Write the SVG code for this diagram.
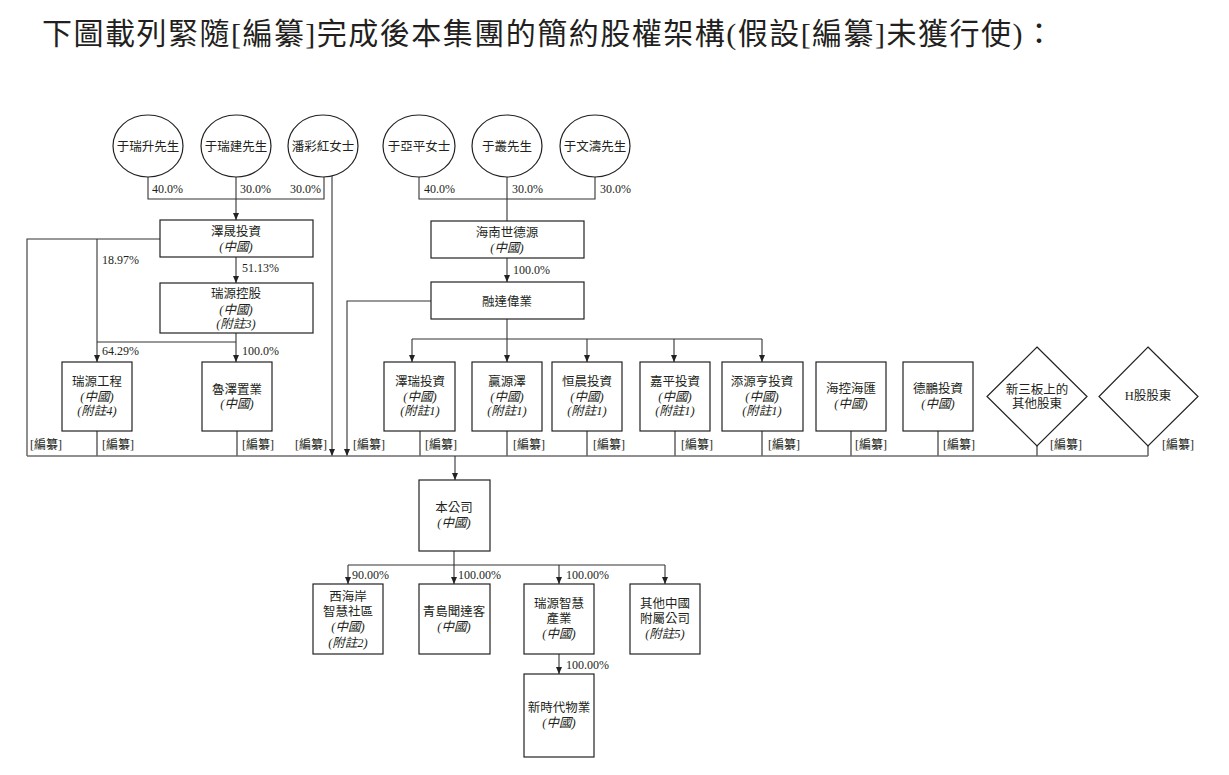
<svg xmlns="http://www.w3.org/2000/svg" width="1229" height="775" viewBox="0 0 1229 775">
<defs>
<style>
.t{font-family:"Liberation Serif","Noto Sans CJK TC",serif;font-size:12.5px;fill:#231f20;text-anchor:middle}
.i{font-style:italic}
.p{font-family:"Liberation Serif","Noto Sans CJK TC",serif;font-size:12px;fill:#231f20}
.r{font-family:"Liberation Serif","Noto Sans CJK TC",serif;font-size:12px;fill:#231f20}
.box{fill:#fff;stroke:#222;stroke-width:1.2}
.ln{stroke:#333;fill:none;stroke-width:1.1}
.bus{stroke:#6b6b6b;fill:none;stroke-width:1.6}
.title{font-family:"Liberation Serif","Noto Sans CJK TC",serif;font-size:30px;fill:#231f20}
</style>
<marker id="ah" viewBox="0 0 7 6" refX="7" refY="3" markerWidth="7" markerHeight="6" markerUnits="userSpaceOnUse" orient="auto">
<path d="M0,0 L7,3 L0,6 z" fill="#222"/>
</marker>
</defs>
<rect width="1229" height="775" fill="#fff"/>
<text class="title" x="42" y="44" textLength="1012" lengthAdjust="spacing">下圖載列緊隨[編纂]完成後本集團的簡約股權架構(假設[編纂]未獲行使)：</text>

<g id="connectors">
<!-- shareholders to 澤晟 -->
<path class="ln" d="M148,177 V199 H324 V177"/>
<path class="ln" d="M236,177 V220" marker-end="url(#ah)"/>
<path class="ln" d="M332,176 V456" marker-end="url(#ah)"/>
<!-- shareholders to 海南世德源 -->
<path class="ln" d="M419,177 V199 H595 V177"/>
<path class="ln" d="M507,177 V221"/>
<path class="ln" d="M507,258 V282" marker-end="url(#ah)"/>
<!-- 澤晟 -->
<path class="ln" d="M160,239 H27 V456"/>
<path class="ln" d="M97,239 V362" marker-end="url(#ah)"/>
<path class="ln" d="M236,257 V283" marker-end="url(#ah)"/>
<path class="ln" d="M236,333 V362" marker-end="url(#ah)"/>
<path class="ln" d="M97,342 H236"/>
<!-- 融達偉業 -->
<path class="ln" d="M431,301 H347 V456" marker-end="url(#ah)"/>
<path class="ln" d="M507,319 V362" marker-end="url(#ah)"/>
<path class="ln" d="M412,339 H762"/>
<path class="ln" d="M412,339 V362" marker-end="url(#ah)"/>
<path class="ln" d="M587,339 V362" marker-end="url(#ah)"/>
<path class="ln" d="M674,339 V362" marker-end="url(#ah)"/>
<path class="ln" d="M762,339 V362" marker-end="url(#ah)"/>
<!-- bus -->
<path class="bus" d="M27,456 H1148"/>
<path class="bus" d="M97,431 V456 M237,431 V456 M420,431 V456 M507,431 V456 M587,431 V456 M675,431 V456 M762,431 V456 M851,431 V456 M938,431 V456 M1037,446 V456 M1148,446 V456"/>
<path class="ln" d="M455,456 V480" marker-end="url(#ah)"/>
<!-- 本公司 -->
<path class="ln" d="M454,551 V565 M348,565 H665"/>
<path class="ln" d="M348,565 V584" marker-end="url(#ah)"/>
<path class="ln" d="M454,565 V584" marker-end="url(#ah)"/>
<path class="ln" d="M559,565 V584" marker-end="url(#ah)"/>
<path class="ln" d="M665,565 V584" marker-end="url(#ah)"/>
<path class="ln" d="M559,654 V674" marker-end="url(#ah)"/>
<!-- percent labels -->
<text class="p" x="152" y="193">40.0%</text>
<text class="p" x="240" y="193">30.0%</text>
<text class="p" x="290" y="193">30.0%</text>
<text class="p" x="424" y="193">40.0%</text>
<text class="p" x="512" y="193">30.0%</text>
<text class="p" x="600" y="193">30.0%</text>
<text class="p" x="102" y="264">18.97%</text>
<text class="p" x="242" y="272">51.13%</text>
<text class="p" x="513" y="274">100.0%</text>
<text class="p" x="102" y="355">64.29%</text>
<text class="p" x="242" y="355">100.0%</text>
<text class="p" x="352" y="579">90.00%</text>
<text class="p" x="458" y="579">100.00%</text>
<text class="p" x="566" y="579">100.00%</text>
<text class="p" x="566" y="669">100.00%</text>
<!-- redacted labels -->
<text class="r" x="30" y="449">[編纂]</text>
<text class="r" x="102" y="449">[編纂]</text>
<text class="r" x="242" y="449">[編纂]</text>
<text class="r" x="295" y="449">[編纂]</text>
<text class="r" x="353" y="449">[編纂]</text>
<text class="r" x="425" y="449">[編纂]</text>
<text class="r" x="513" y="449">[編纂]</text>
<text class="r" x="593" y="449">[編纂]</text>
<text class="r" x="681" y="449">[編纂]</text>
<text class="r" x="768" y="449">[編纂]</text>
<text class="r" x="855" y="449">[編纂]</text>
<text class="r" x="943" y="449">[編纂]</text>
<text class="r" x="1050" y="449">[編纂]</text>
<text class="r" x="1162" y="449">[編纂]</text>
</g>

<g id="p1"><ellipse class="box" cx="148" cy="146" rx="35" ry="31"/><text class="t" x="148" y="151">于瑞升先生</text></g>
<g id="p2"><ellipse class="box" cx="236" cy="146" rx="35" ry="31"/><text class="t" x="236" y="151">于瑞建先生</text></g>
<g id="p3"><ellipse class="box" cx="323" cy="146" rx="35" ry="31"/><text class="t" x="323" y="151">潘彩紅女士</text></g>
<g id="p4"><ellipse class="box" cx="419" cy="146" rx="36" ry="31"/><text class="t" x="419" y="151">于亞平女士</text></g>
<g id="p5"><ellipse class="box" cx="507" cy="146" rx="35" ry="31"/><text class="t" x="507" y="151">于叢先生</text></g>
<g id="p6"><ellipse class="box" cx="595" cy="146" rx="35" ry="31"/><text class="t" x="595" y="151">于文濤先生</text></g>

<g id="zesheng"><rect class="box" x="160" y="220" width="153" height="37"/><text class="t" x="236" y="236">澤晟投資</text><text class="t i" x="236" y="251">(中國)</text></g>
<g id="ruiyuan-holding"><rect class="box" x="160" y="283" width="153" height="50"/><text class="t" x="236" y="298">瑞源控股</text><text class="t i" x="236" y="314">(中國)</text><text class="t i" x="236" y="328">(附註3)</text></g>
<g id="hainan"><rect class="box" x="431" y="221" width="153" height="37"/><text class="t" x="507" y="237">海南世德源</text><text class="t i" x="507" y="252">(中國)</text></g>
<g id="rongda"><rect class="box" x="431" y="282" width="153" height="37"/><text class="t" x="507" y="306">融達偉業</text></g>

<g id="ruiyuan-eng"><rect class="box" x="62" y="362" width="70" height="69"/><text class="t" x="97" y="386">瑞源工程</text><text class="t i" x="97" y="401">(中國)</text><text class="t i" x="97" y="415">(附註4)</text></g>
<g id="luze"><rect class="box" x="202" y="362" width="70" height="69"/><text class="t" x="237" y="394">魯澤置業</text><text class="t i" x="237" y="408">(中國)</text></g>
<g id="zerui"><rect class="box" x="384" y="362" width="71" height="69"/><text class="t" x="420" y="386">澤瑞投資</text><text class="t i" x="420" y="401">(中國)</text><text class="t i" x="420" y="415">(附註1)</text></g>
<g id="yingyuanze"><rect class="box" x="472" y="362" width="70" height="69"/><text class="t" x="507" y="386">贏源澤</text><text class="t i" x="507" y="401">(中國)</text><text class="t i" x="507" y="415">(附註1)</text></g>
<g id="hengchen"><rect class="box" x="552" y="362" width="70" height="69"/><text class="t" x="587" y="386">恒晨投資</text><text class="t i" x="587" y="401">(中國)</text><text class="t i" x="587" y="415">(附註1)</text></g>
<g id="jiaping"><rect class="box" x="640" y="362" width="70" height="69"/><text class="t" x="675" y="386">嘉平投資</text><text class="t i" x="675" y="401">(中國)</text><text class="t i" x="675" y="415">(附註1)</text></g>
<g id="tianyuanheng"><rect class="box" x="722" y="362" width="81" height="69"/><text class="t" x="762" y="386">添源亨投資</text><text class="t i" x="762" y="401">(中國)</text><text class="t i" x="762" y="415">(附註1)</text></g>
<g id="haikong"><rect class="box" x="816" y="362" width="70" height="69"/><text class="t" x="851" y="393">海控海匯</text><text class="t i" x="851" y="408">(中國)</text></g>
<g id="depeng"><rect class="box" x="903" y="362" width="70" height="69"/><text class="t" x="938" y="393">德鵬投資</text><text class="t i" x="938" y="408">(中國)</text></g>
<g id="neeq"><polygon class="box" points="1037,347 1087,396.5 1037,446 987,396.5"/><text class="t" x="1037" y="394">新三板上的</text><text class="t" x="1037" y="408">其他股東</text></g>
<g id="hshare"><polygon class="box" points="1148,347 1198,396.5 1148,446 1099,396.5"/><text class="t" x="1148" y="400">H股股東</text></g>

<g id="company"><rect class="box" x="419" y="480" width="71" height="71"/><text class="t" x="454" y="512">本公司</text><text class="t i" x="454" y="527">(中國)</text></g>
<g id="westcoast"><rect class="box" x="313" y="584" width="70" height="70"/><text class="t" x="348" y="601">西海岸</text><text class="t" x="348" y="616">智慧社區</text><text class="t i" x="348" y="631">(中國)</text><text class="t i" x="348" y="647">(附註2)</text></g>
<g id="qingdao"><rect class="box" x="419" y="584" width="71" height="70"/><text class="t" x="454" y="616">青島聞達客</text><text class="t i" x="454" y="631">(中國)</text></g>
<g id="ruiyuan-smart"><rect class="box" x="524" y="584" width="70" height="70"/><text class="t" x="559" y="608">瑞源智慧</text><text class="t" x="559" y="623">產業</text><text class="t i" x="559" y="638">(中國)</text></g>
<g id="other-prc"><rect class="box" x="630" y="584" width="70" height="70"/><text class="t" x="665" y="608">其他中國</text><text class="t" x="665" y="623">附屬公司</text><text class="t i" x="665" y="638">(附註5)</text></g>
<g id="newera"><rect class="box" x="524" y="674" width="70" height="83"/><text class="t" x="559" y="712">新時代物業</text><text class="t i" x="559" y="727">(中國)</text></g>
</svg>
